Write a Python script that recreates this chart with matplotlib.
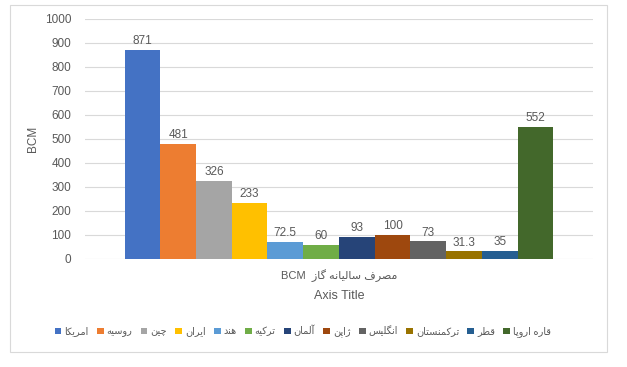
import matplotlib
matplotlib.use("Agg")
import matplotlib.pyplot as plt
from matplotlib.patches import Rectangle

# data
countries = ['امریکا', 'روسیه', 'چین', 'ایران', 'هند', 'ترکیه', 'آلمان',
             'ژاپن', 'انگلیس', 'ترکمنستان', 'قطر', 'قاره اروپا']
values = [871, 481, 326, 233, 72.5, 60, 93, 100, 73, 31.3, 35, 552]
value_labels = ['871', '481', '326', '233', '72.5', '60', '93', '100', '73', '31.3', '35', '552']
colors = ['#4472C4', '#ED7D31', '#A5A5A5', '#FFC000', '#5B9BD5', '#70AD47',
          '#264478', '#9E480E', '#636363', '#997300', '#255E91', '#43682B']
category = 'مصرف سالیانه گاز'
yticks = [0, 100, 200, 300, 400, 500, 600, 700, 800, 900, 1000]

# matplotlib does no arabic shaping, so do it by hand (presentation forms + reverse)
DUAL = {'ب': 0xFE8F, 'ت': 0xFE95, 'ج': 0xFE9D, 'س': 0xFEB1, 'ص': 0xFEB9, 'ط': 0xFEC1,
        'ف': 0xFED1, 'ق': 0xFED5, 'ل': 0xFEDD, 'م': 0xFEE1, 'ن': 0xFEE5, 'ه': 0xFEE9,
        'پ': 0xFB56, 'چ': 0xFB7A, 'ک': 0xFB8E, 'گ': 0xFB92, 'ی': 0xFBFC}
RIGHT = {'ا': 0xFE8D, 'آ': 0xFE81, 'د': 0xFEA9, 'ر': 0xFEAD, 'ز': 0xFEAF, 'ژ': 0xFB8A, 'و': 0xFEED}

def shape(s):
    out = []
    for i, c in enumerate(s):
        prev_c = s[i-1] if i > 0 else ''
        next_c = s[i+1] if i < len(s)-1 else ''
        pj = prev_c in DUAL
        nj = next_c in DUAL or next_c in RIGHT
        if c in RIGHT:
            out.append(chr(RIGHT[c] + (1 if pj else 0)))
        elif c in DUAL:
            if pj and nj:
                k = 3
            elif pj:
                k = 1
            elif nj:
                k = 2
            else:
                k = 0
            out.append(chr(DUAL[c] + k))
        else:
            out.append(c)
    return ''.join(out)[::-1]

plt.rcParams['font.family'] = ['Liberation Sans', 'DejaVu Sans']
grey = '#595959'

fig = plt.figure(figsize=(6.27, 3.67), dpi=100)
ax = fig.add_axes([0.1356, 0.2943, 0.81, 0.654])

n = len(values)
group = 0.8445
w = group / n
xs = [-group/2 + w*(i+0.5) for i in range(n)]
bars = ax.bar(xs, values, width=w, color=colors,
              label=[shape(c) for c in countries], zorder=3)
for x, v, t in zip(xs, values, value_labels):
    ax.text(x, v + 12, t, ha='center', va='bottom', fontsize=8.5, color=grey)

ax.set_xlim(-0.5, 0.5)
ax.set_ylim(0, 1000)
ax.set_yticks(yticks)
ax.tick_params(axis='y', length=0, pad=10, labelsize=8.5, labelcolor=grey)
ax.set_xticks([0])
ax.set_xticklabels(['BCM  ' + shape(category)])
ax.tick_params(axis='x', length=0, pad=7, labelsize=8, labelcolor=grey)
ax.set_xlabel('Axis Title', fontsize=9, color=grey, labelpad=6)
ax.set_ylabel('BCM', fontsize=8.5, color=grey, labelpad=4)
ax.yaxis.grid(True, color='#d9d9d9', linewidth=0.8, zorder=0)
for sp in ax.spines.values():
    sp.set_visible(False)

fig.legend(handles=bars, labels=[shape(c) for c in countries], loc='center',
           bbox_to_anchor=(0.483, 0.098), ncol=n, frameon=False, fontsize=7,
           handlelength=0.7, handleheight=0.7, handletextpad=0.3, columnspacing=0.85,
           labelcolor=grey)

fig.patches.append(Rectangle((10/627, 1-352/367), 597/627, 347/367,
                             transform=fig.transFigure, fill=False,
                             edgecolor='#d9d9d9', linewidth=0.8))

fig.savefig('out.png', dpi=100)
